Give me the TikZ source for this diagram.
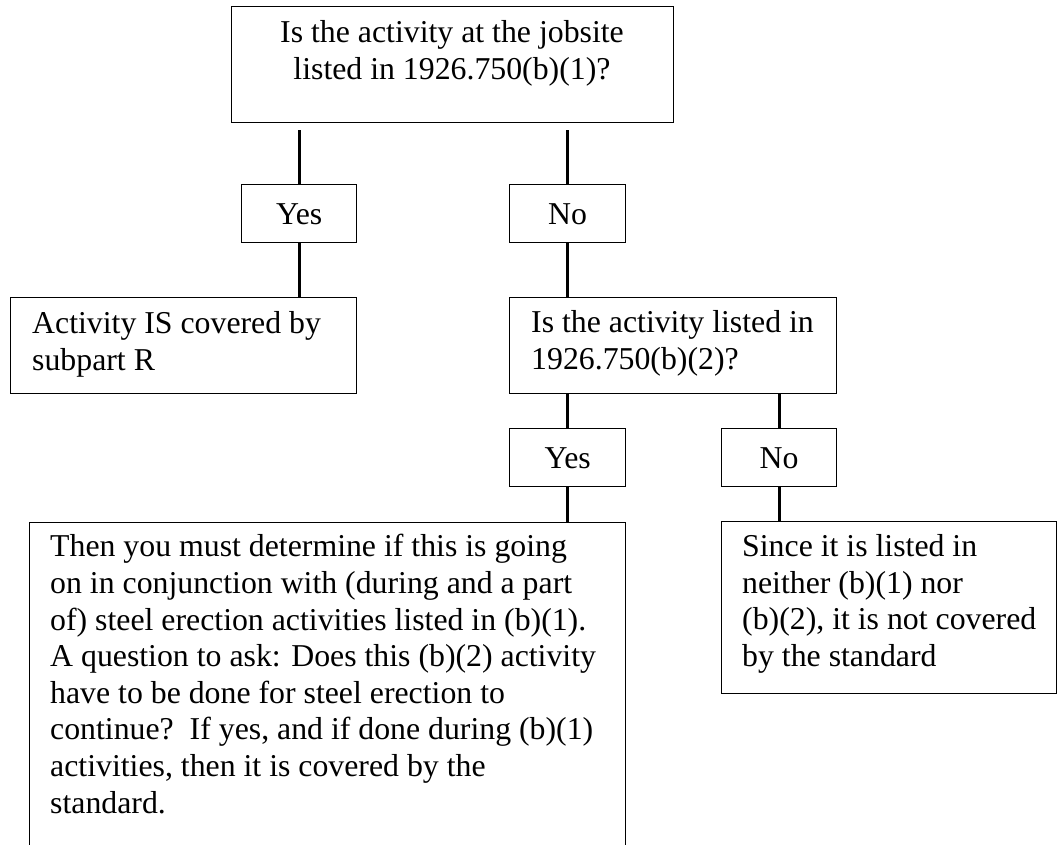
\documentclass[tikz,border=0pt]{standalone}
\usepackage{fontspec}
\setmainfont{Liberation Serif}
\begin{document}
\begin{tikzpicture}[x=1pt,y=-1pt,
  box/.style={draw, line width=1.3pt, inner sep=0pt, anchor=north west},
  small/.style={box, font=\fontsize{31.8}{36.6}\selectfont, text height=21pt, text depth=0pt},
  link/.style={line width=2.7pt},
  txt/.style={inner sep=0pt, font=\fontsize{31.8}{36.6}\selectfont, anchor=north west, align=left, execute at begin node=\strut},
  txtc/.style={txt, anchor=north, align=center}]
\useasboundingbox (0,0) rectangle (1057,845);
\clip (0,0) rectangle (1057,845);
% boxes
\node[box, minimum width=442pt, minimum height=116pt] (q1) at (231,6) {};
\node[small, minimum width=115pt, minimum height=58pt] (yes1) at (241,184) {Yes};
\node[small, minimum width=116pt, minimum height=58pt] (no1) at (509,184) {No};
\node[box, minimum width=346pt, minimum height=96pt] (act) at (10,297) {};
\node[box, minimum width=327pt, minimum height=96pt] (q2) at (509,297) {};
\node[small, minimum width=116pt, minimum height=58pt] (yes2) at (509,428) {Yes};
\node[small, minimum width=115pt, minimum height=58pt] (no2) at (721,428) {No};
\node[box, minimum width=596pt, minimum height=360pt] (det) at (29,522) {};
\node[box, minimum width=335pt, minimum height=172pt] (rt) at (721,521) {};
% texts
\node[txtc] (q1t) at (452,20.4) {Is the activity at the jobsite\\listed in 1926.750(b)(1)?};
\node[txt] (actt) at (32,311.4) {Activity IS covered by\\subpart R};
\node[txt] (q2t) at (531,310.4) {Is the activity listed in\\1926.750(b)(2)?};
\node[txt] (dett) at (50,534.4) {Then you must determine if this is going\\on in conjunction with (during and a part\\of) steel erection activities listed in (b)(1).\\A question to ask: Does this (b)(2) activity\\have to be done for steel erection to\\continue?\ \ If yes, and if done during (b)(1)\\activities, then it is covered by the\\standard.};
\node[txt] (rtt) at (742,534.4) {Since it is listed in\\neither (b)(1) nor\\(b)(2), it is not covered\\by the standard};
% connectors
\draw[link] ([yshift=-7pt]q1.south -| yes1.north) -- (yes1.north);
\draw[link] ([yshift=-7pt]q1.south -| no1.north) -- (no1.north);
\draw[link] (yes1.south) -- (yes1.south |- act.north);
\draw[link] (no1.south) -- (no1.south |- q2.north);
\draw[link] (yes2.north |- q2.south) -- (yes2.north);
\draw[link] (no2.north |- q2.south) -- (no2.north);
\draw[link] (yes2.south) -- (yes2.south |- det.north);
\draw[link] (no2.south) -- (no2.south |- rt.north);
\end{tikzpicture}
\end{document}
